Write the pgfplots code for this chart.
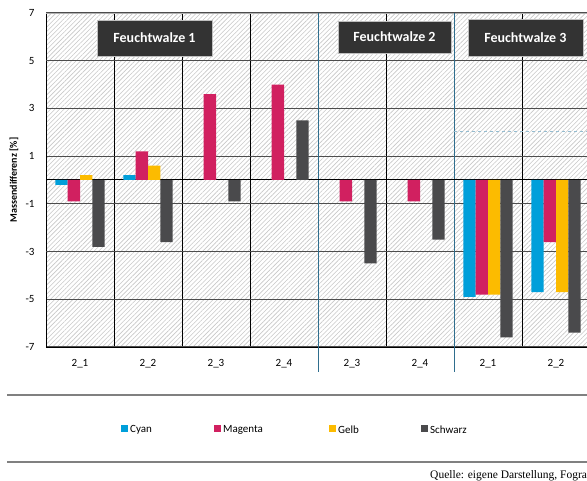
\documentclass[border=0pt]{standalone}
\usepackage{fontspec}
\setmainfont{Carlito}
\newfontfamily\quellefont{Liberation Serif}
\usepackage{pgfplots}
\pgfplotsset{compat=1.18}
\usetikzlibrary{patterns.meta}
\definecolor{cy}{HTML}{009FDA}
\definecolor{mg}{HTML}{D12060}
\definecolor{ge}{HTML}{FCBB00}
\definecolor{sw}{HTML}{4A4A4C}
\definecolor{gridgray}{HTML}{4D4D4D}
\definecolor{gridblue}{HTML}{4B6E85}
\definecolor{sepblue}{HTML}{2F6E8E}
\definecolor{lightblue}{HTML}{94BCD0}
\definecolor{hatch}{HTML}{C8C8C8}
\definecolor{boxgray}{HTML}{333333}
\begin{document}
\begin{tikzpicture}[x=1bp,y=1bp]
\useasboundingbox (0,0) rectangle (587,481);
\clip (0,0) rectangle (587,481);
\begin{axis}[
  at={(46bp,134bp)}, anchor=south west,
  scale only axis, width=544bp, height=334bp,
  xmin=-0.5, xmax=7.5, ymin=-7, ymax=7,
  xtick={0,...,7},
  xticklabels={2\_1,2\_2,2\_3,2\_4,2\_3,2\_4,2\_1,2\_2},
  ytick={-7,-5,-1,1,3,7}, yticklabels={-7,-5,-1,1,3,7},
  extra y ticks={-3,5}, extra y tick labels={-3,5},
  extra y tick style={grid style={color=gridblue, line width=1bp}},
  ymajorgrids, major grid style={color=gridgray, line width=1bp},
  minor xtick={0.5,1.5,2.5,4.5,6.5}, xminorgrids,
  minor grid style={black, line width=0.8bp},
  major tick length=0pt, minor tick length=0pt,
  axis x line*=bottom, axis y line*=left,
  axis line style={black, line width=0.8bp},
  axis background/.style={fill=white, postaction={pattern={Lines[angle=45,distance=3.2bp,line width=0.6bp]}, pattern color=hatch}},
  clip=false,
  ybar, bar width=12.3bp,
  tick label style={font=\fontsize{11bp}{13bp}\selectfont, text=black},
  xticklabel style={yshift=-9bp},
  yticklabel style={xshift=-8bp},
  ylabel={Massendifferenz [\%]},
  ylabel style={font=\bfseries\fontsize{10bp}{12bp}\selectfont, at={(axis description cs:-0.0588,0.5)}, anchor=center},
  legend columns=4,
  legend style={at={(axis description cs:0.1379,-0.249)}, anchor=west, draw=none, fill=none, inner sep=0pt,
    font=\fontsize{11bp}{13bp}\selectfont,
    /tikz/every even column/.append style={column sep=52bp}},
  legend image code/.code={\fill[#1] (0bp,-1.5bp) rectangle (7bp,5.5bp);},
]
\draw[gray!60, line width=0.8bp] (axis cs:-0.5,7) -- (axis cs:7.5,7);
\draw[sepblue, line width=1bp] (axis cs:3.5,7) -- (axis cs:3.5,-8.05);
\draw[sepblue, line width=1bp] (axis cs:5.5,7) -- (axis cs:5.5,-8.05);
\draw[lightblue, dashed, line width=1bp] (axis cs:5.5,2.05) -- (axis cs:7.5,2.05);
\draw[black, line width=1bp] (axis cs:-0.5,0) -- (axis cs:7.5,0);
\addplot[fill=cy, draw=none, bar shift=-18.45bp] coordinates {(0,-0.2) (1,0.2) (6,-4.9) (7,-4.7)};
\addplot[fill=mg, draw=none, bar shift=-6.15bp] coordinates {(0,-0.9) (1,1.2) (2,3.6) (3,4.0) (4,-0.9) (5,-0.9) (6,-4.8) (7,-2.6)};
\addplot[fill=ge, draw=none, bar shift=6.15bp] coordinates {(0,0.2) (1,0.6) (6,-4.8) (7,-4.7)};
\addplot[fill=sw, draw=none, bar shift=18.45bp] coordinates {(0,-2.8) (1,-2.6) (2,-0.9) (3,2.5) (4,-3.5) (5,-2.5) (6,-6.6) (7,-6.4)};
\legend{\makebox[30bp][l]{Cyan},\makebox[52bp][l]{Magenta},\makebox[29bp][l]{Gelb},Schwarz}
\node[fill=boxgray, draw=gray!50, text=white, font=\bfseries\fontsize{14bp}{16bp}\selectfont, minimum width=115bp, minimum height=36bp] at (axis cs:1.096,5.95) {Feuchtwalze 1};
\node[fill=boxgray, draw=gray!50, text=white, font=\bfseries\fontsize{14bp}{16bp}\selectfont, minimum width=113bp, minimum height=32bp] at (axis cs:4.625,5.99) {Feuchtwalze 2};
\node[fill=boxgray, draw=gray!50, text=white, font=\bfseries\fontsize{14bp}{16bp}\selectfont, minimum width=115bp, minimum height=37bp] at (axis cs:6.55,5.97) {Feuchtwalze 3};
\end{axis}
\draw[gray, line width=1.3bp] (7,86) -- (600,86);
\draw[gray, line width=1.3bp] (7,19) -- (600,19);
\node[anchor=base west, inner sep=0pt, font=\quellefont\fontsize{11.5bp}{13bp}\selectfont] at (430,2.5) {Quelle: eigene Darstellung, Fogra};
\end{tikzpicture}
\end{document}
